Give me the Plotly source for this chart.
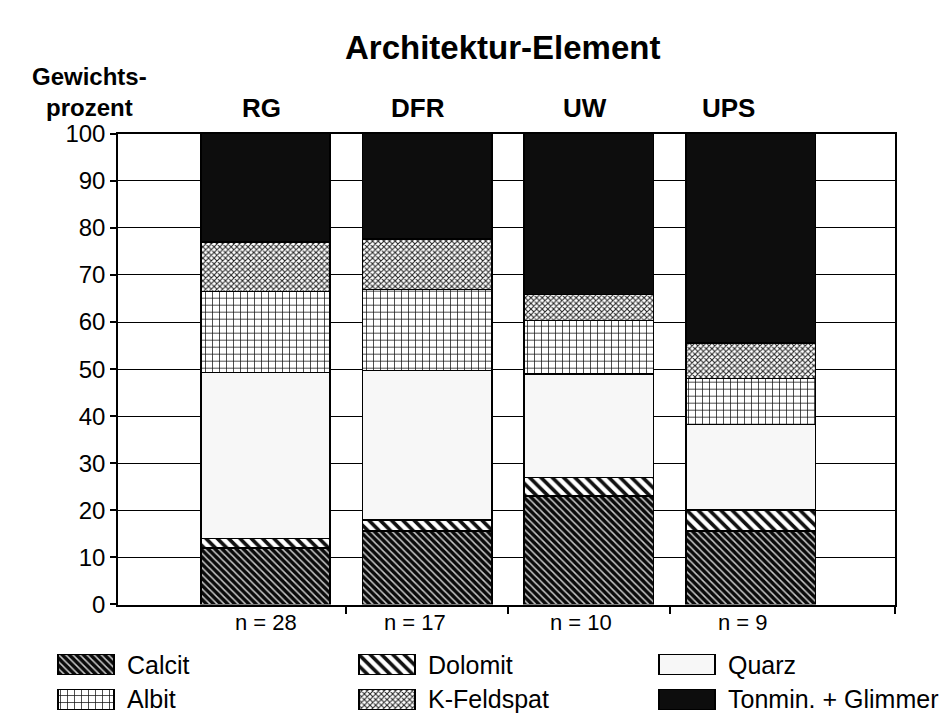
import plotly.graph_objects as go

# ---------------- data ----------------
categories = ["RG", "DFR", "UW", "UPS"]
n_values = [28, 17, 10, 9]
calcit = [12.0, 15.6, 23.0, 15.6]
dolomit = [2.0, 2.3, 4.0, 4.5]
quarz = [35.3, 31.8, 22.0, 18.1]
albit = [17.2, 17.2, 11.3, 9.8]
kfeldspat = [10.5, 10.7, 5.5, 7.5]
tonmin = [23.0, 22.4, 34.2, 44.5]
y_ticks = [0, 10, 20, 30, 40, 50, 60, 70, 80, 90, 100]

series_names = ["Calcit", "Dolomit", "Quarz", "Albit", "K-Feldspat", "Tonmin. + Glimmer"]
series_values = [calcit, dolomit, quarz, albit, kfeldspat, tonmin]

# ---------------- styles / layout ----------------
W, H = 947, 726
FONT = "Liberation Sans, Arial, Helvetica, sans-serif"
styles = {
    "Calcit": dict(color="#c8c8c8", pattern=dict(shape="\\", fgcolor="#0a0a0a", bgcolor="#c8c8c8",
                                                 size=5, solidity=0.7, fillmode="replace")),
    "Dolomit": dict(color="white", pattern=dict(shape="\\", fgcolor="#111", bgcolor="white",
                                                size=8, solidity=0.45, fillmode="replace")),
    "Quarz": dict(color="#f7f7f7", pattern=dict(shape="")),
    "Albit": dict(color="white", pattern=dict(shape="+", fgcolor="#111", bgcolor="white",
                                              size=7, solidity=0.2, fillmode="replace")),
    "K-Feldspat": dict(color="white", pattern=dict(shape="x", fgcolor="#222", bgcolor="white",
                                                   size=4, solidity=0.45, fillmode="replace")),
    "Tonmin. + Glimmer": dict(color="#0d0d0d", pattern=dict(shape="")),
}

PLOT_L, PLOT_R, PLOT_T, PLOT_B = 110, 887, 116, 605
x_range = [-0.912, 3.893]
px_per_unit = (PLOT_R - PLOT_L) / (x_range[1] - x_range[0])
cat_label_shift_px = [-4, -9, -4, -22]   # slight offsets of the header labels seen in the original
n_label_shift_px = [1, -12, -8, -8]

def px_x(px):
    return px / W

def px_y(py):
    return (H - py) / H

fig = go.Figure()
xpos = list(range(len(categories)))

for name, vals in zip(series_names, series_values):
    st = styles[name]
    fig.add_trace(go.Bar(
        x=xpos, y=vals, name=name, width=0.80,
        marker=dict(color=st["color"], pattern=st["pattern"],
                    line=dict(color="black", width=1.5)),
        showlegend=False, hoverinfo="skip",
    ))

# ---------------- custom legend (swatches as bars on a separate axis below the chart) ----------------
LEG_TOP = 645
legend_cols = [78, 379, 679]
legend_rows = [657, 693]
swatch_w, swatch_h = 56, 21
for i, name in enumerate(series_names):
    col, row = i % 3, i // 3
    st = styles[name]
    fig.add_trace(go.Bar(
        x=[legend_cols[col]], y=[swatch_h], base=[legend_rows[row]], width=swatch_w,
        marker=dict(color=st["color"], pattern=st["pattern"],
                    line=dict(color="black", width=1.2)),
        xaxis="x2", yaxis="y2", showlegend=False, hoverinfo="skip",
    ))
    fig.add_annotation(x=px_x(legend_cols[col] + swatch_w / 2 + 11), y=px_y(legend_rows[row] + swatch_h / 2),
                       xref="paper", yref="paper", text=name, showarrow=False,
                       xanchor="left", yanchor="middle",
                       font=dict(family=FONT, size=25, color="black"))

# ---------------- labels ----------------
fig.add_annotation(x=px_x(494), y=px_y(27), xref="paper", yref="paper",
                   text="<b>Architektur-Element</b>", showarrow=False,
                   xanchor="center", yanchor="middle",
                   font=dict(family=FONT, size=33, color="black"))
fig.add_annotation(x=px_x(81), y=px_y(73), xref="paper", yref="paper",
                   text="<b>Gewichts-<br>prozent</b>", showarrow=False, align="center",
                   xanchor="center", yanchor="middle",
                   font=dict(family=FONT, size=24, color="black"))
for xi, cat, n, cs, ns in zip(xpos, categories, n_values, cat_label_shift_px, n_label_shift_px):
    fig.add_annotation(x=xi + cs / px_per_unit, y=px_y(89), xref="x", yref="paper",
                       text=f"<b>{cat}</b>", showarrow=False, xanchor="center", yanchor="middle",
                       font=dict(family=FONT, size=26, color="black"))
    fig.add_annotation(x=xi + ns / px_per_unit, y=px_y(624), xref="x", yref="paper",
                       text=f"n = {n}", showarrow=False, xanchor="center", yanchor="middle",
                       font=dict(family=FONT, size=22, color="black"))

fig.update_layout(
    width=W, height=H, autosize=False,
    margin=dict(l=0, r=0, t=0, b=0),
    paper_bgcolor="white", plot_bgcolor="rgba(0,0,0,0)",
    barmode="stack", bargap=0.2,
    font=dict(family=FONT, color="black"),
    xaxis=dict(domain=[px_x(PLOT_L), px_x(PLOT_R)], range=x_range,
               tickvals=[0.5, 1.5, 2.5, x_range[1]], ticks="outside", ticklen=8,
               tickcolor="black", tickwidth=1.5, showticklabels=False,
               showgrid=False, zeroline=False, showline=True, linecolor="black",
               linewidth=1.5, mirror=True, anchor="y"),
    yaxis=dict(domain=[px_y(PLOT_B), px_y(PLOT_T)], range=[0, 100], tickvals=y_ticks,
               ticks="outside", ticklen=6, tickcolor="black", tickwidth=1.5,
               tickfont=dict(family=FONT, size=24, color="black"),
               showgrid=True, gridcolor="black", gridwidth=1.3, zeroline=False,
               showline=True, linecolor="black", linewidth=1.5, mirror=True, anchor="x"),
    xaxis2=dict(domain=[0, 1], range=[0, W], visible=False, anchor="y2", fixedrange=True),
    yaxis2=dict(domain=[0, px_y(LEG_TOP)], range=[H, LEG_TOP], visible=False, anchor="x2",
                fixedrange=True),
)

fig.write_html("out.html")
